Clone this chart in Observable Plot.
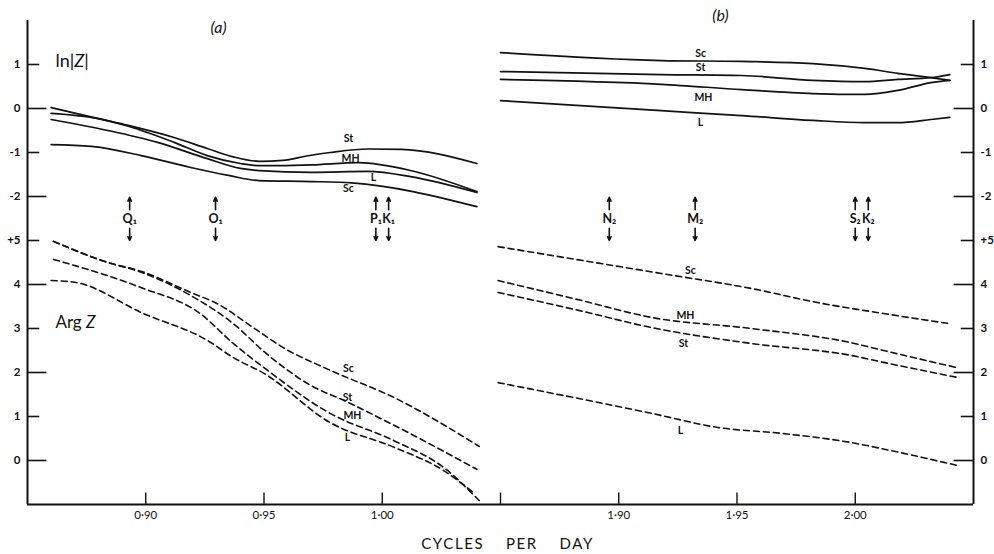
<!DOCTYPE html>
<html><head><meta charset="utf-8">
<script src="https://cdn.jsdelivr.net/npm/d3@7"></script>
<script src="https://cdn.jsdelivr.net/npm/@observablehq/plot@0.6"></script>
<style>body{margin:0;background:#fff} #chart{width:994px;height:554px}</style>
</head><body><div id="chart"></div>
<script>
// ---- ln|Z| (solid), panel (a): diurnal band, [cycles per day, ln|Z|]
const lnZ_a_St = [[0.86,0.02],[0.88,-0.23],[0.893,-0.39],[0.912,-0.66],[0.926,-0.91],[0.937,-1.1],[0.948,-1.2],[0.958,-1.18],[0.968,-1.08],[0.978,-1.0],[0.994,-0.92],[1.008,-0.93],[1.04,-1.25]];
const lnZ_a_MH = [[0.86,-0.11],[0.88,-0.23],[0.893,-0.41],[0.912,-0.77],[0.926,-1.07],[0.94,-1.25],[0.948,-1.3],[0.97,-1.28],[0.99,-1.23],[1.012,-1.41],[1.04,-1.89]];
const lnZ_a_L  = [[0.86,-0.25],[0.884,-0.5],[0.905,-0.77],[0.926,-1.14],[0.94,-1.36],[0.948,-1.41],[0.97,-1.45],[0.994,-1.43],[1.012,-1.55],[1.04,-1.91]];
const lnZ_a_Sc = [[0.86,-0.82],[0.877,-0.86],[0.898,-1.07],[0.919,-1.34],[0.935,-1.52],[0.948,-1.64],[0.97,-1.66],[0.987,-1.69],[1.04,-2.23]];
// ---- ln|Z| (solid), panel (b): semidiurnal band
const lnZ_b_Sc = [[1.85,1.27],[1.918,1.09],[1.952,1.07],[1.982,1.02],[2.004,0.91],[2.018,0.8],[2.032,0.7],[2.04,0.64]];
const lnZ_b_St = [[1.85,0.84],[1.918,0.77],[1.952,0.75],[1.982,0.64],[2.004,0.61],[2.018,0.66],[2.032,0.7],[2.04,0.77]];
const lnZ_b_MH = [[1.85,0.66],[1.918,0.55],[1.952,0.43],[1.982,0.34],[2.004,0.32],[2.018,0.41],[2.032,0.59],[2.04,0.64]];
const lnZ_b_L  = [[1.85,0.18],[1.918,-0.05],[1.952,-0.16],[1.982,-0.27],[2.004,-0.32],[2.018,-0.32],[2.032,-0.25],[2.04,-0.2]];
// ---- Arg Z (dashed), panel (a)
const arg_a_Sc = [[0.861,4.98],[0.884,4.5],[0.898,4.3],[0.919,3.82],[0.93,3.57],[0.946,3.0],[0.958,2.57],[0.978,2.05],[1.005,1.43],[1.041,0.32]];
const arg_a_St = [[0.861,4.98],[0.884,4.5],[0.898,4.28],[0.919,3.75],[0.937,3.11],[0.951,2.43],[0.97,1.7],[0.984,1.36],[1.005,0.8],[1.04,-0.2]];
const arg_a_MH = [[0.861,4.57],[0.898,3.93],[0.923,3.34],[0.937,2.66],[0.95,2.11],[0.978,1.07],[1.005,0.45],[1.026,-0.16],[1.041,-0.91]];
const arg_a_L  = [[0.86,4.09],[0.87,4.05],[0.899,3.34],[0.926,2.73],[0.937,2.34],[0.95,1.98],[0.978,0.86],[1.005,0.3],[1.026,-0.23],[1.039,-0.75]];
// ---- Arg Z (dashed), panel (b)
const arg_b_Sc = [[1.849,4.86],[1.918,4.25],[1.956,3.91],[1.984,3.59],[2.012,3.34],[2.04,3.11]];
const arg_b_MH = [[1.849,4.09],[1.884,3.64],[1.914,3.25],[1.956,3.0],[1.998,2.68],[2.012,2.5],[2.043,2.11]];
const arg_b_St = [[1.849,3.82],[1.884,3.4],[1.914,3.02],[1.956,2.66],[1.998,2.39],[2.012,2.23],[2.043,1.89]];
const arg_b_L  = [[1.849,1.77],[1.914,1.07],[1.942,0.75],[1.97,0.61],[1.998,0.41],[2.019,0.18],[2.043,-0.11]];

// ---- curve labels [freq, value, text]
const lnZLabels = [[0.9857,-0.68,"St"],[0.9866,-1.14,"MH"],[0.9963,-1.57,"L"],[0.9857,-1.82,"Sc"],
                   [1.9346,1.25,"Sc"],[1.9346,0.93,"St"],[1.9358,0.25,"MH"],[1.9346,-0.32,"L"]];
const argLabels  = [[0.9857,2.09,"Sc"],[0.9853,1.43,"St"],[0.9874,1.02,"MH"],[0.9853,0.52,"L"],
                    [1.9303,4.32,"Sc"],[1.9282,3.30,"MH"],[1.9274,2.66,"St"],[1.9261,0.68,"L"]];

// ---- tidal constituents
const tideNames = ["Q₁","O₁","P₁","K₁","N₂","M₂","S₂","K₂"];
const tideFreqs = [0.8932,0.9295,0.9973,1.0027,1.8960,1.9323,2.0000,2.0055];

// ---- ticks
const lnZTicks = [1,0,-1,-2];
const argTicks = [5,4,3,2,1,0];
const yTickLabels = ["1","0","-1","-2","+5","4","3","2","1","0"];
const xTickFreqs = [0.90,0.95,1.00,1.85,1.90,1.95,2.00];
const xTickLabels = ["0·90","0·95","1·00","","1·90","1·95","2·00"];

// ---- layout helpers: both bands share one axis, (b) is shifted left by 0.8 cpd; Arg Z is stacked 8 units below ln|Z|
const bandShift = 0.8;
const argOffset = 8;
const disp = f => f > 1.5 ? f - bandShift : f;
const xDomain = [0.85, 1.25];
const yDomain = [-9, 2];

const yTickPos = [...lnZTicks, ...argTicks.map(v => v - argOffset)];
const yTickVal = [...lnZTicks, ...argTicks];
const xTickPos = xTickFreqs.map(disp);

const lnSeries = [lnZ_a_St, lnZ_a_MH, lnZ_a_L, lnZ_a_Sc, lnZ_b_Sc, lnZ_b_St, lnZ_b_MH, lnZ_b_L];
const argSeries = [arg_a_Sc, arg_a_St, arg_a_MH, arg_a_L, arg_b_Sc, arg_b_MH, arg_b_St, arg_b_L];

const tides = tideNames.map((n, i) => ({name: n, x: disp(tideFreqs[i])}));
const font = "Lato, 'DejaVu Sans', sans-serif";
const tickLen = v => (Math.abs(v) % 2 === 0 ? 0.0082 : 0.0052);

const marks = [];
for (const s of lnSeries) marks.push(Plot.line(s, {x: d => disp(d[0]), y: d => d[1], curve: "monotone-x", stroke: "#111", strokeWidth: 1.7}));
for (const s of argSeries) marks.push(Plot.line(s, {x: d => disp(d[0]), y: d => d[1] - argOffset, curve: "monotone-x", stroke: "#111", strokeWidth: 1.6, strokeDasharray: "6,4"}));

marks.push(
  // frame lines
  Plot.ruleX([xDomain[0], xDomain[1]], {y1: yDomain[0], y2: yDomain[1], strokeWidth: 2, stroke: "#111"}),
  Plot.ruleY([yDomain[0]], {x1: xDomain[0], x2: xDomain[1], strokeWidth: 2, stroke: "#111"}),
  // y tick marks (inside)
  Plot.ruleY(yTickPos, {y: d => d, x1: xDomain[0], x2: (d, i) => xDomain[0] + tickLen(yTickVal[i]), strokeWidth: 1.6, stroke: "#111"}),
  Plot.ruleY(yTickPos, {y: d => d, x1: (d, i) => xDomain[1] - tickLen(yTickVal[i]), x2: xDomain[1], strokeWidth: 1.6, stroke: "#111"}),
  // x tick marks (inside)
  Plot.ruleX(xTickPos, {x: d => d, y1: yDomain[0], y2: yDomain[0] + 0.26, strokeWidth: 1.4, stroke: "#111"}),
  Plot.axisY({ticks: yTickPos, anchor: "left", tickSize: 0, tickPadding: 7, label: null, fontWeight: "bold", fontSize: 11.5,
    tickFormat: d => yTickLabels[yTickPos.indexOf(d)]}),
  Plot.axisY({ticks: yTickPos, anchor: "right", tickSize: 0, tickPadding: 7, label: null, fontWeight: "bold", fontSize: 11.5,
    tickFormat: d => yTickLabels[yTickPos.indexOf(d)]}),
  Plot.axisX({ticks: xTickPos, anchor: "bottom", tickSize: 0, tickPadding: 6, label: null, fontSize: 11.5,
    tickFormat: d => xTickLabels[xTickPos.indexOf(d)]}),
  // curve labels
  Plot.text(lnZLabels, {x: d => disp(d[0]), y: d => d[1], text: d => d[2], fontSize: 10.5, fontWeight: "bold", fill: "#111"}),
  Plot.text(argLabels, {x: d => disp(d[0]), y: d => d[1] - argOffset, text: d => d[2], fontSize: 10.5, fontWeight: "bold", fill: "#111"}),
  // tidal constituent arrows
  Plot.arrow(tides, {x: "x", y1: -2.30, y2: -2.02, headLength: 5, headAngle: 50, strokeWidth: 1.6, stroke: "#111"}),
  Plot.arrow(tides, {x: "x", y1: -2.72, y2: -3.0, headLength: 5, headAngle: 50, strokeWidth: 1.6, stroke: "#111"}),
  Plot.text(tides, {x: "x", y: -2.5, text: "name", fontSize: 12.5, fontWeight: "bold", fill: "#111"}),
  // panel annotations
  Plot.text(["(a)"], {x: 0.9308, y: 1.84, text: d => d, fontSize: 16, fontStyle: "italic", fill: "#111"}),
  Plot.text(["(b)"], {x: 1.143, y: 2.11, text: d => d, fontSize: 16, fontStyle: "italic", fill: "#111"}),
  Plot.text(["ln|Z|"], {x: 0.8618, y: 1.07, text: d => d, textAnchor: "start", fontSize: 18, fill: "#111"}),
  Plot.text(["Arg Z"], {x: 0.8618, y: -4.86, text: d => d, textAnchor: "start", fontSize: 17, fill: "#111"}),
  Plot.text(["CYCLES    PER    DAY"], {x: 1.053, y: yDomain[0], dy: 40, text: d => d, fontSize: 15, fill: "#111"})
);

const chart = Plot.plot({
  width: 994, height: 554,
  marginLeft: 27, marginRight: 21, marginTop: 20, marginBottom: 50,
  x: {domain: xDomain, axis: null},
  y: {domain: yDomain, axis: null},
  style: {fontFamily: font, background: "#fff", color: "#111"},
  marks
});
// italic Z in the two quantity labels, letter-spaced axis title
d3.select(chart).selectAll("text").each(function () {
  const t = this.textContent;
  if (t === "ln|Z|" || t === "Arg Z") {
    const parts = t === "ln|Z|" ? ["ln|", "Z", "|"] : ["Arg ", "Z", ""];
    this.textContent = "";
    parts.forEach((p, i) => { if (p) d3.select(this).append("tspan").attr("font-style", i === 1 ? "italic" : null).text(p); });
  }
  if (t.startsWith("CYCLES")) d3.select(this).attr("letter-spacing", "1.6px");
});
document.getElementById("chart").appendChild(chart);
</script></body></html>
